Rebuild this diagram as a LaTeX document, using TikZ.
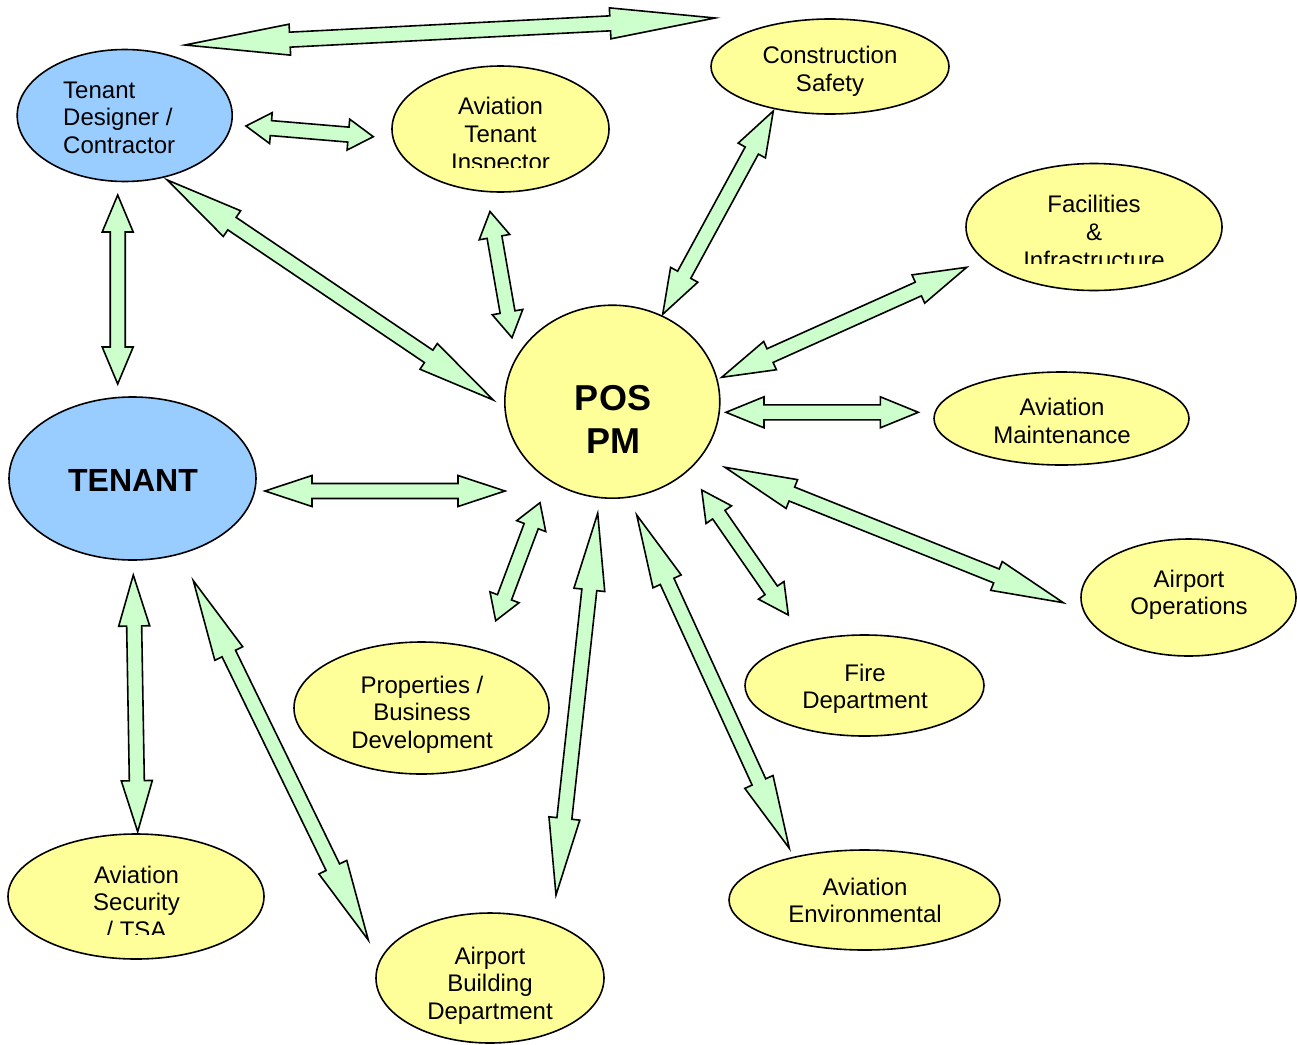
\documentclass[tikz,border=0pt]{standalone}
\usepackage{fontspec}
\setmainfont{Liberation Sans}
\usetikzlibrary{shapes.geometric,calc}

\definecolor{nodeyellow}{HTML}{FFFF99}
\definecolor{nodeblue}{HTML}{99CCFF}
\definecolor{arrowgreen}{HTML}{CCFFCC}

\newcommand\arrHeadW{15.5pt}
\newcommand\arrShaftW{7.5pt}

% Double-headed block arrow between two named tip coordinates.
% #1, #2: tips; #3: head length (pt)
\newcommand\dblarrow[3]{%
  \coordinate (ha) at ($(#1)!#3pt!(#2)$);
  \coordinate (hb) at ($(#2)!#3pt!(#1)$);
  \draw[blockarrow] (#1)
    -- ($(ha)!\arrHeadW!90:(#2)$) -- ($(ha)!\arrShaftW!90:(#2)$)
    -- ($(hb)!\arrShaftW!-90:(#1)$) -- ($(hb)!\arrHeadW!-90:(#1)$)
    -- (#2)
    -- ($(hb)!\arrHeadW!90:(#1)$) -- ($(hb)!\arrShaftW!90:(#1)$)
    -- ($(ha)!\arrShaftW!-90:(#2)$) -- ($(ha)!\arrHeadW!-90:(#2)$)
    -- cycle;
}

\tikzset{
  oval/.style={ellipse, draw=black, line width=1.6pt, inner sep=0pt},
  yel/.style={oval, fill=nodeyellow},
  blu/.style={oval, fill=nodeblue},
  lbl/.style={anchor=north, inner sep=0pt, align=center,
    font=\fontsize{24}{27.6}\selectfont},
  blockarrow/.style={draw=black, fill=arrowgreen, line width=1.6pt, line join=miter},
}

\begin{document}
\begin{tikzpicture}[x=1pt, y=-1pt]
\useasboundingbox (0,0) rectangle (1297,1044);

% ---- arrow tips ----
\coordinate (top-a) at (185,45);      \coordinate (top-b) at (715,18);
\coordinate (di-a) at (246,126);      \coordinate (di-b) at (373.3,136.7);
\coordinate (dt-a) at (117.7,195);    \coordinate (dt-b) at (117.7,384);
\coordinate (dp-a) at (167.3,180);    \coordinate (dp-b) at (493.3,400);
\coordinate (ip-a) at (490,211.5);    \coordinate (ip-b) at (512,337.7);
\coordinate (sp-a) at (773.3,111);    \coordinate (sp-b) at (662.7,314.3);
\coordinate (fp-a) at (966.7,267.3);  \coordinate (fp-b) at (721.7,377.3);
\coordinate (mp-a) at (918.3,412.3);  \coordinate (mp-b) at (726,412.3);
\coordinate (tp-a) at (265,491);      \coordinate (tp-b) at (505,491);
\coordinate (po-a) at (725,467.3);    \coordinate (po-b) at (1063.3,602.7);
\coordinate (pf-a) at (701.7,490);    \coordinate (pf-b) at (788.3,615);
\coordinate (pr-a) at (540,502.7);    \coordinate (pr-b) at (495.7,620.7);
\coordinate (pb-a) at (597.7,513.3);  \coordinate (pb-b) at (556,895);
\coordinate (pe-a) at (636.7,515);    \coordinate (pe-b) at (789.3,848.3);
\coordinate (ts-a) at (133.3,575);    \coordinate (ts-b) at (137.7,831.7);
\coordinate (tb-a) at (193.3,580.7);  \coordinate (tb-b) at (368.3,940);

% ---- arrows ----
\dblarrow{top-a}{top-b}{105}
\dblarrow{di-a}{di-b}{25}
\dblarrow{dt-a}{dt-b}{37}
\dblarrow{dp-a}{dp-b}{78}
\dblarrow{ip-a}{ip-b}{26}
\dblarrow{sp-a}{sp-b}{45}
\dblarrow{fp-a}{fp-b}{53}
\dblarrow{mp-a}{mp-b}{38}
\dblarrow{tp-a}{tp-b}{47}
\dblarrow{po-a}{po-b}{72}
\dblarrow{pf-a}{pf-b}{30}
\dblarrow{pr-a}{pr-b}{25}
\dblarrow{pb-a}{pb-b}{77}
\dblarrow{pe-a}{pe-b}{73}
\dblarrow{ts-a}{ts-b}{51}
\dblarrow{tb-a}{tb-b}{81}

% ---- ovals ----
\node[blu, minimum width=215pt, minimum height=132pt] (designer) at (124.7,115.5) {};
\node[yel, minimum width=217pt, minimum height=126pt] (insp) at (500.5,129) {};
\node[yel, minimum width=238pt, minimum height=95pt] (safety) at (830,66.5) {};
\node[yel, minimum width=256pt, minimum height=127pt] (facil) at (1094,227) {};
\node[yel, minimum width=255pt, minimum height=93pt] (maint) at (1061.5,418.5) {};
\node[yel, minimum width=215pt, minimum height=117pt] (ops) at (1188.5,597.5) {};
\node[yel, minimum width=239pt, minimum height=101pt] (fire) at (864.5,685.5) {};
\node[yel, minimum width=271pt, minimum height=100pt] (env) at (864.5,900) {};
\node[yel, minimum width=228pt, minimum height=130pt] (bldg) at (490,978) {};
\node[yel, minimum width=255pt, minimum height=132pt] (prop) at (421.5,708) {};
\node[yel, minimum width=256pt, minimum height=125pt] (sec) at (136,896.5) {};
\node[blu, minimum width=247pt, minimum height=163pt] (tenant) at (132.5,478.5) {};
\node[yel, minimum width=215pt, minimum height=193pt] (pospm) at (612.3,401.7) {};

% ---- labels ----
\node[lbl, anchor=north west, align=left] (designer-t) at (63,81.4) {Tenant\\Designer /\\Contractor};
\begin{scope}
  \clip (390,80) rectangle (610,167.5);
  \node[lbl] (insp-t) at (500.5,97.4) {Aviation\\Tenant\\Inspector};
\end{scope}
\node[lbl] (safety-t) at (830,46.4) {Construction\\Safety};
\begin{scope}
  \clip (965,180) rectangle (1222,263);
  \node[lbl] (facil-t) at (1094,195.4) {Facilities\\\&\\Infrastructure};
\end{scope}
\node[lbl] (maint-t) at (1062,398.4) {Aviation\\Maintenance};
\node[lbl] (ops-t) at (1189,569.4) {Airport\\Operations};
\node[lbl] (fire-t) at (865,663.4) {Fire\\Department};
\node[lbl] (env-t) at (865,877.4) {Aviation\\Environmental};
\node[lbl] (bldg-t) at (490,946.4) {Airport\\Building\\Department};
\node[lbl] (prop-t) at (422,675.4) {Properties /\\Business\\Development};
\begin{scope}
  \clip (10,850) rectangle (264,934);
  \node[lbl] (sec-t) at (136.5,865.4) {Aviation\\Security\\/ TSA};
\end{scope}
\node[lbl, font=\fontsize{32}{38}\selectfont\bfseries] (tenant-t) at (133,469.5) {TENANT};
\node[lbl, font=\fontsize{36}{43}\selectfont\bfseries] (pos-t) at (613,385) {POS\\PM};
\end{tikzpicture}
\end{document}
